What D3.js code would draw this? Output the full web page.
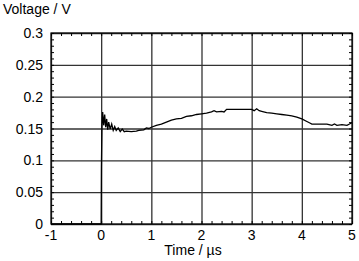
<!DOCTYPE html>
<html>
<head>
<meta charset="utf-8">
<script src="https://cdn.jsdelivr.net/npm/d3@7"></script>
<style>
  body { margin: 0; background: #fff; }
  svg { display: block; }
  .domain { display: none; }
</style>
</head>
<body>
<div id="chart"></div>
<script>
// Data
const timeValues = [-1, -0.5, 0, 0.005, 0.015, 0.03, 0.05, 0.07, 0.09, 0.11, 0.13, 0.15, 0.18, 0.21, 0.24, 0.27, 0.3, 0.34, 0.38, 0.42, 0.46, 0.5, 0.6, 0.7, 0.75, 0.85, 0.9, 0.95, 1.0, 1.1, 1.2, 1.3, 1.4, 1.5, 1.6, 1.7, 1.8, 1.9, 2.0, 2.1, 2.2, 2.25, 2.3, 2.4, 2.45, 2.5, 2.7, 2.9, 3.0, 3.05, 3.1, 3.15, 3.2, 3.3, 3.4, 3.5, 3.6, 3.7, 3.8, 3.9, 4.0, 4.1, 4.15, 4.2, 4.3, 4.4, 4.5, 4.6, 4.65, 4.7, 4.8, 4.9, 4.95, 5.0];
const voltageValues = [0, 0, 0, 0.09, 0.15, 0.176, 0.155, 0.172, 0.152, 0.165, 0.148, 0.16, 0.149, 0.157, 0.147, 0.153, 0.147, 0.151, 0.145, 0.149, 0.145, 0.146, 0.145, 0.146, 0.147, 0.148, 0.151, 0.150, 0.152, 0.155, 0.157, 0.16, 0.163, 0.165, 0.166, 0.169, 0.17, 0.172, 0.173, 0.174, 0.176, 0.178, 0.176, 0.177, 0.176, 0.18, 0.18, 0.18, 0.18, 0.178, 0.181, 0.178, 0.177, 0.175, 0.174, 0.173, 0.172, 0.171, 0.17, 0.168, 0.165, 0.161, 0.159, 0.157, 0.157, 0.157, 0.157, 0.155, 0.157, 0.155, 0.156, 0.155, 0.157, 0.159];
const xTicks = [-1, 0, 1, 2, 3, 4, 5];
const xTickLabels = ["-1", "0", "1", "2", "3", "4", "5"];
const yTicks = [0, 0.05, 0.1, 0.15, 0.2, 0.25, 0.3];
const yTickLabels = ["0", "0.05", "0.1", "0.15", "0.2", "0.25", "0.3"];

const data = timeValues.map((t, i) => ({ t: t, v: voltageValues[i] }));

const width = 359;
const height = 261;
const margin = { top: 33, right: 7, bottom: 37, left: 51 };
const innerWidth = width - margin.left - margin.right;
const innerHeight = height - margin.top - margin.bottom;

const svg = d3.select("#chart")
  .append("svg")
    .attr("width", width)
    .attr("height", height)
    .attr("font-family", "Liberation Sans, Arial, sans-serif")
    .attr("font-size", 14);

const innerChart = svg
  .append("g")
    .attr("transform", `translate(${margin.left}, ${margin.top})`);

// Scales
const xScale = d3.scaleLinear()
  .domain([-1, 5])
  .range([0, innerWidth]);
const yScale = d3.scaleLinear()
  .domain([0, 0.3])
  .range([innerHeight, 0]);

// Grid
innerChart
  .append("g")
    .attr("class", "grid-x")
    .attr("transform", `translate(0, ${innerHeight})`)
    .call(d3.axisBottom(xScale).tickValues(xTicks).tickSize(-innerHeight).tickFormat(""));
innerChart
  .append("g")
    .attr("class", "grid-y")
    .call(d3.axisLeft(yScale).tickValues(yTicks).tickSize(-innerWidth).tickFormat(""));
innerChart.selectAll(".grid-x line, .grid-y line")
  .attr("stroke", "#333")
  .attr("stroke-width", 1.3);

// Minor ticks on all four sides
const xMinor = d3.range(0, 31).map(i => -1 + i * 0.2);
const yMinor = d3.range(0, 31).map(i => i * 0.01);
innerChart.append("g")
  .attr("class", "minor")
  .attr("transform", `translate(0, ${innerHeight})`)
  .call(d3.axisBottom(xScale).tickValues(xMinor).tickSize(-3).tickFormat(""));
innerChart.append("g")
  .attr("class", "minor")
  .call(d3.axisTop(xScale).tickValues(xMinor).tickSize(-3).tickFormat(""));
innerChart.append("g")
  .attr("class", "minor")
  .call(d3.axisLeft(yScale).tickValues(yMinor).tickSize(-3).tickFormat(""));
innerChart.append("g")
  .attr("class", "minor")
  .attr("transform", `translate(${innerWidth}, 0)`)
  .call(d3.axisRight(yScale).tickValues(yMinor).tickSize(-3).tickFormat(""));
innerChart.selectAll(".minor line")
  .attr("stroke", "#000")
  .attr("stroke-width", 1);

// drop the empty labels left by the grid and minor tick axes
innerChart.selectAll(".grid-x text, .grid-y text, .minor text").remove();

// Frame
innerChart
  .append("rect")
    .attr("width", innerWidth)
    .attr("height", innerHeight)
    .attr("fill", "none")
    .attr("stroke", "#000")
    .attr("stroke-width", 1.2);

// Tick labels
innerChart
  .selectAll(".x-label")
  .data(xTicks)
  .join("text")
    .attr("class", "x-label")
    .attr("x", d => xScale(d))
    .attr("y", innerHeight + 16)
    .attr("text-anchor", "middle")
    .text((d, i) => xTickLabels[i]);
innerChart
  .selectAll(".y-label")
  .data(yTicks)
  .join("text")
    .attr("class", "y-label")
    .attr("x", -8)
    .attr("y", d => yScale(d) + 5)
    .attr("text-anchor", "end")
    .text((d, i) => yTickLabels[i]);

// Signal
const lineGenerator = d3.line()
  .x(d => xScale(d.t))
  .y(d => yScale(d.v));
innerChart
  .append("path")
    .attr("d", lineGenerator(data))
    .attr("fill", "none")
    .attr("stroke", "#000")
    .attr("stroke-width", 1.3);

// Axis labels
svg
  .append("text")
    .text("Voltage / V")
    .attr("x", 3)
    .attr("y", 14);
svg
  .append("text")
    .text("Time / µs")
    .attr("x", 193)
    .attr("y", 255)
    .attr("text-anchor", "middle");
</script>
</body>
</html>
